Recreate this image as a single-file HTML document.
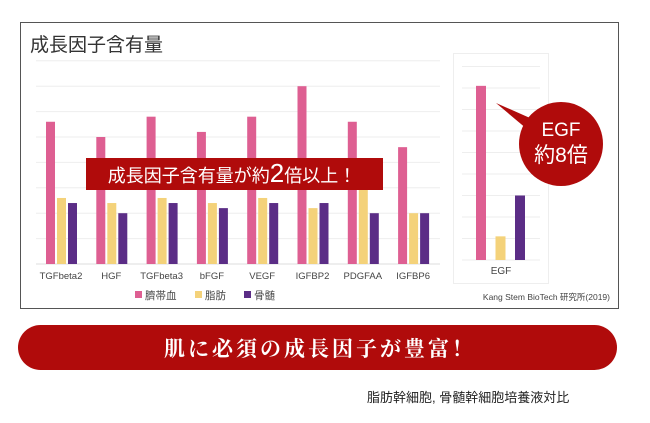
<!DOCTYPE html>
<html><head><meta charset="utf-8">
<style>
body{margin:0;background:#fff;width:650px;height:423px;overflow:hidden;font-family:"Liberation Sans","Noto Sans CJK JP",sans-serif;}
svg{display:block}
</style></head>
<body>
<svg id="chart" width="650" height="423" viewBox="0 0 650 423">
  <rect x="20.5" y="22.5" width="598" height="286" fill="#fff" stroke="#555" stroke-width="1"/>
  <text x="30" y="51" font-size="19" fill="#333" font-family="'Liberation Sans','Noto Sans CJK JP',sans-serif">成長因子含有量</text>
  <g id="grid"></g>
  <g id="bars"></g>
  <g id="labels"></g>
  <rect x="453.5" y="53.5" width="95" height="230" fill="none" stroke="#eee"/>
  <g id="egfgrid"></g>
  <g id="egfbars"></g>
  <text x="501" y="274" font-size="10" fill="#444" text-anchor="middle">EGF</text>
  <rect x="86" y="158" width="297" height="32" fill="#b00b0b"/>
  <text x="232" y="182" font-size="18" fill="#fff" text-anchor="middle">成長因子含有量が約<tspan font-size="26">2</tspan>倍以上！</text>
  <path d="M496,103 L530,118 L540,140 Z" fill="#b00b0b"/>
  <circle cx="561" cy="144" r="42" fill="#b00b0b"/>
  <text x="561" y="136" font-size="19" fill="#fff" text-anchor="middle">EGF</text>
  <text x="561" y="162" font-size="21" fill="#fff" text-anchor="middle">約8倍</text>
  <g>
    <rect x="135" y="291" width="7" height="7" fill="#de5f92"/>
    <text x="145" y="299" font-size="10.5" fill="#444">臍帯血</text>
    <rect x="195" y="291" width="7" height="7" fill="#f4d27a"/>
    <text x="205" y="299" font-size="10.5" fill="#444">脂肪</text>
    <rect x="244" y="291" width="7" height="7" fill="#5b2d86"/>
    <text x="254" y="299" font-size="10.5" fill="#444">骨髄</text>
  </g>
  <text x="610" y="300" font-size="8.5" fill="#444" text-anchor="end">Kang Stem BioTech 研究所(2019)</text>
  <rect x="18" y="325" width="599" height="45" rx="22.5" fill="#b00b0b"/>
  <text x="320" y="356" font-size="21" font-weight="bold" fill="#fff" text-anchor="middle" font-family="'Liberation Serif','Noto Serif CJK SC',serif" letter-spacing="3">肌に必須の成長因子が豊富！</text>
  <text x="367" y="402" font-size="13" fill="#222">脂肪幹細胞, 骨髄幹細胞培養液対比</text>
</svg>
<script>
const categories=["TGFbeta2","HGF","TGFbeta3","bFGF","VEGF","IGFBP2","PDGFAA","IGFBP6"];
const cordBlood=[5.6,5.0,5.8,5.2,5.8,7.0,5.6,4.6];
const fat=[2.6,2.4,2.6,2.4,2.6,2.2,3.0,2.0];
const boneMarrow=[2.4,2.0,2.4,2.2,2.4,2.4,2.0,2.0];
const egfCategories=["EGF"];
const egfCord=[8.1];
const egfFat=[1.1];
const egfBone=[3.0];
const colors=["#de5f92","#f4d27a","#5b2d86"];
const NS="http://www.w3.org/2000/svg";
const y=v=>264-v*25.4;
const xg=i=>46+i*50.3;
const ye=v=>260-v*21.5;
function mk(tag,attrs,parent){const e=document.createElementNS(NS,tag);for(const k in attrs)e.setAttribute(k,attrs[k]);parent.appendChild(e);return e;}
const grid=document.getElementById('grid');
for(let t=0;t<=8;t++){
  const l=mk('line',{x1:36,x2:440,y1:y(t),y2:y(t),stroke:t===0?'#ddd':'#eee','stroke-width':1},grid);
  
  
}
const bars=document.getElementById('bars');
const labels=document.getElementById('labels');
const series=[cordBlood,fat,boneMarrow];
const sn=['cord-blood','fat','bone-marrow'];
categories.forEach((c,i)=>{
  series.forEach((s,j)=>{
    const r=mk('rect',{x:xg(i)+j*11,y:y(s[i]),width:9,height:y(0)-y(s[i]),fill:colors[j]},bars);
    
    
  });
  const t=mk('text',{x:xg(i)+15,y:279,'font-size':9.5,fill:'#444','text-anchor':'middle'},labels);
  t.textContent=c;
  
  
});
const eg=document.getElementById('egfgrid');
for(let t=0;t<=9;t++){
  const l=mk('line',{x1:462,x2:540,y1:ye(t),y2:ye(t),stroke:'#eee','stroke-width':1},eg);
  
  
}
const eb=document.getElementById('egfbars');
[egfCord,egfFat,egfBone].forEach((s,j)=>{
  const r=mk('rect',{x:476+j*19.5,y:ye(s[0]),width:10,height:ye(0)-ye(s[0]),fill:colors[j]},eb);
  
  
});
</script>
</body></html>
